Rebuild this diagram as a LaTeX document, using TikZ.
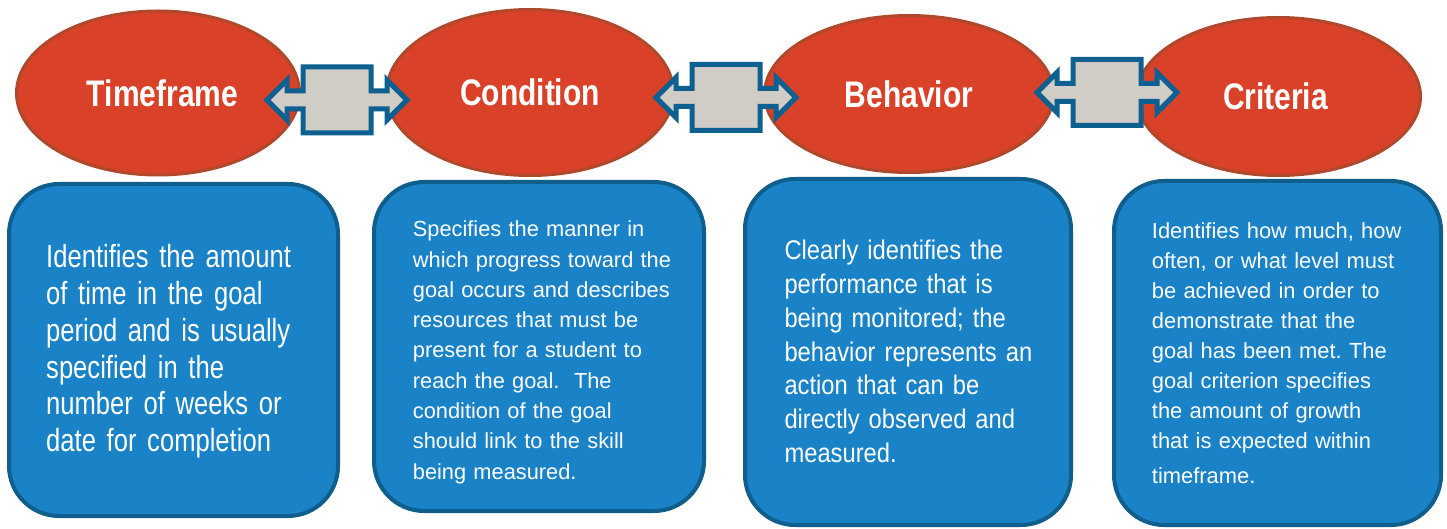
\documentclass[tikz,border=0pt]{standalone}
\usepackage{fontspec}
\setmainfont{Liberation Sans}
\frenchspacing
\newfontfamily\titlefont[FakeStretch=0.81]{Liberation Sans}
\newfontfamily\narrowfont[FakeStretch=0.80]{Liberation Sans}
\newfontfamily\semifont[FakeStretch=0.88]{Liberation Sans}
\usetikzlibrary{shapes.geometric}
\definecolor{ellfill}{RGB}{217,65,40}
\definecolor{ellline}{RGB}{176,72,44}
\definecolor{boxfill}{RGB}{26,130,198}
\definecolor{boxline}{RGB}{15,94,140}
\definecolor{arrfill}{RGB}{208,204,198}
\definecolor{arrline}{RGB}{14,96,144}
\tikzset{
  oval/.style={ellipse, draw=ellline, fill=ellfill, line width=3pt, inner sep=0pt,
    text=white, font=\titlefont\bfseries\fontsize{37}{44}\selectfont},
  bluebox/.style={rectangle, rounded corners=50pt, draw=boxline, fill=boxfill,
    line width=4pt, inner sep=0pt},
  boxtext/.style={anchor=base west, inner sep=0pt, text=white, align=left, text width=#1},
  dblarrow/.style={draw=arrline, fill=arrfill, line width=5pt, line join=miter}
}
\newcommand\twoheadarrow[2]{%
  \draw[dblarrow, shift={(#1,#2)}]
    (-70,0) -- (-50,-20) -- (-50,-9) -- (-34,-9) -- (-34,-33) -- (34,-33) -- (34,-9)
    -- (50,-9) -- (50,-20) -- (70,0) -- (50,20) -- (50,9) -- (34,9) -- (34,33)
    -- (-34,33) -- (-34,9) -- (-50,9) -- (-50,20) -- cycle;}
\begin{document}
\begin{tikzpicture}[x=1pt,y=-1pt]
\useasboundingbox (0,0) rectangle (1447,529);
% ovals
\node[oval, minimum width=283pt, minimum height=164pt] (e1) at (158,93) {\hspace*{9pt}Timeframe};
\node[oval, minimum width=287pt, minimum height=166pt] (e2) at (530,92.5) {Condition};
\node[oval, minimum width=289pt, minimum height=157pt] (e3) at (909,94) {Behavior};
\node[oval, minimum width=284pt, minimum height=158pt] (e4) at (1278.5,96.5) {Criteria\hspace*{6pt}};
% double arrows between ovals
\twoheadarrow{337}{100}
\twoheadarrow{726}{97.5}
\twoheadarrow{1107}{92.5}
% blue boxes
\node[bluebox, minimum width=329pt, minimum height=332pt] (b1) at (173.5,350) {};
\node[bluebox, minimum width=330pt, minimum height=329pt] (b2) at (539,346.5) {};
\node[bluebox, minimum width=326pt, minimum height=346pt] (b3) at (908,352) {};
\node[bluebox, minimum width=327pt, minimum height=344pt] (b4) at (1277.5,353) {};
% texts
\node[boxtext=290pt, font=\narrowfont\fontsize{32}{36.7}\selectfont] (t1) at (46,268)
 {Identifies the amount\\ of time in the goal\\ period and is usually\\ specified in the\\ number of weeks or\\ date for completion};
\node[boxtext=290pt, font=\fontsize{21.8}{30.3}\selectfont] (t2) at (412.7,236.7)
 {Specifies the manner in\\ which progress toward the\\ goal occurs and describes\\ resources that must be\\ present for a student to\\ reach the goal.\ \ The\\ condition of the goal\\ should link to the skill\\ being measured.};
\node[boxtext=285pt, font=\semifont\fontsize{27}{33.9}\selectfont] (t3) at (784.3,259.3)
 {Clearly identifies the\\ performance that is\\ being monitored; the\\ behavior represents an\\ action that can be\\ directly observed and\\ measured.};
\node[boxtext=285pt, font=\fontsize{21.9}{30}\selectfont] (t4) at (1151.7,238.3)
 {Identifies how much, how\\ often, or what level must\\ be achieved in order to\\ demonstrate that the\\ goal has been met. The\\ goal criterion specifies\\ the amount of growth\\ that is expected within\\[5pt] timeframe.};
\end{tikzpicture}
\end{document}
